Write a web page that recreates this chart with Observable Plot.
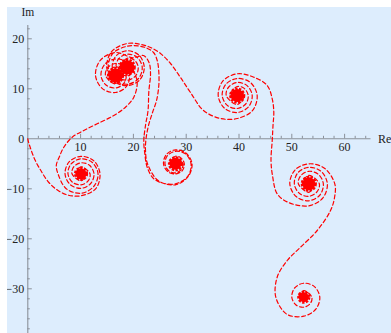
<!DOCTYPE html>
<html><head><meta charset="utf-8">
<script src="https://cdn.jsdelivr.net/npm/d3@7"></script>
<script src="https://cdn.jsdelivr.net/npm/@observablehq/plot@0.6"></script>
<style>
html,body{margin:0;padding:0;background:#fff;overflow:hidden;}
#chart{position:absolute;left:7px;top:7px;}
</style></head><body><div id="chart"></div>
<script>
// Curve, in (Re, Im) values, traced segment by segment
const segOriginToC1 = [[0,0],[0.2,-0.9],[1.4,-4.3],[2.5,-6.4],[3.8,-8.5],[5.4,-10.1],[7.4,-11.2],[10.08,-11.4],[12.88,-9.96],[13.67,-7.0],[12.52,-4.42],[10.08,-3.5],[7.82,-4.62],[7.05,-7.0],[8.03,-9.16],[10.08,-9.9],[11.91,-8.94],[12.54,-7.0],[11.68,-5.3],[10.08,-4.8],[8.73,-5.58],[8.37,-7.0],[10.08,-8.4],[11.02,-7.0],[10.08,-6.4],[10.08,-7.0]];
const segC1ToC2 = [[10.08,-7.6],[9.13,-7.0],[10.08,-5.6],[11.78,-7.0],[11.42,-8.42],[10.08,-9.2],[8.47,-8.7],[7.61,-7.0],[8.2,-5.02],[10.08,-4.0],[12.22,-4.74],[13.3,-7.0],[12.48,-9.54],[10.08,-10.9],[7.27,-9.98],[5.72,-7.0],[5.4,-5.3],[6.0,-3.54],[6.82,-1.68],[8.41,0.32],[10.61,1.66],[13.14,3.0],[16.29,4.66],[18.5,6.32],[20.08,8.32],[20.72,11.0],[20.4,12.66],[19.02,15.2],[16.61,15.96],[14.53,14.86],[13.86,12.66],[14.81,10.76],[16.61,10.16],[18.14,11.04],[18.6,12.66],[16.61,14.46],[15.19,12.66],[16.61,11.46],[17.46,12.66],[16.61,13.26],[16.61,12.66]];
const segC2ToC4 = [[16.61,12.26],[15.85,12.66],[16.61,13.76],[17.94,12.66],[16.61,10.96],[14.72,12.66],[15.13,14.22],[16.61,15.06],[18.35,14.5],[19.26,12.66],[18.69,10.46],[16.61,9.26],[14.13,10.04],[12.82,12.66],[13.73,15.7],[16.61,17.26],[19.96,16.2],[21.89,16.66],[22.96,15.26],[23.24,13.06],[22.92,9.4],[22.77,5.66],[22.29,2.66],[21.97,-0.34],[22.16,-3.0],[22.61,-5.68],[23.81,-7.94],[25.51,-8.84],[27.97,-9.0],[30.32,-7.48],[30.91,-5.0],[29.85,-3.02],[27.97,-2.5],[26.44,-3.38],[25.98,-5.0],[26.67,-6.38],[27.97,-6.8],[29.07,-6.16],[29.39,-5.0],[27.97,-3.9],[27.22,-5.0],[27.97,-5.5],[27.97,-5.0]];
const segC4ToC3 = [[27.97,-4.7],[28.54,-5.0],[27.97,-5.9],[26.84,-5.0],[27.97,-3.5],[29.05,-3.86],[29.64,-5.0],[29.26,-6.36],[27.97,-7.04],[26.5,-6.56],[25.7,-5.0],[26.23,-3.16],[27.97,-2.2],[29.98,-2.88],[31.1,-5.0],[30.38,-7.54],[27.97,-9.2],[24.75,-8.4],[22.67,-5.0],[22.29,-2.34],[22.39,0],[22.86,2.66],[23.62,5.26],[24.38,7.66],[24.81,10.66],[24.81,13.4],[24.51,15.66],[23.81,17.26],[22.48,18.16],[20.97,18.56],[18.83,18.52],[16.16,17.14],[15.23,14.32],[16.42,11.78],[18.83,10.92],[20.97,12.06],[21.67,14.32],[20.7,16.3],[18.83,16.92],[17.22,16.02],[16.75,14.32],[18.83,12.52],[20.16,14.32],[18.83,15.32],[18.26,14.32],[18.83,14.32]];
const segC3ToC5 = [[18.83,14.72],[19.58,14.32],[18.83,13.32],[17.5,14.32],[18.83,16.12],[20.17,15.74],[20.91,14.32],[20.44,12.62],[18.83,11.72],[16.95,12.34],[15.99,14.32],[16.7,16.56],[18.83,17.62],[21.08,16.7],[22.05,14.32],[21.21,11.8],[18.83,10.62],[16.21,11.56],[14.94,14.32],[15.87,17.44],[18.83,19.06],[21.34,18.9],[23.24,18.26],[25.13,17.06],[27.03,15.06],[28.92,12.26],[30.81,9.26],[33.28,5.66],[36.5,4.06],[39.66,4.06],[42.54,5.62],[43.44,8.66],[42.14,11.28],[39.66,12.06],[37.52,10.92],[36.81,8.66],[37.79,6.68],[39.66,6.06],[41.27,6.96],[41.74,8.66],[40.99,10.08],[39.66,10.46],[38.33,8.66],[39.66,7.66],[40.23,8.66],[39.66,8.66]];
const segC5ToC6 = [[39.66,8.26],[39.09,8.66],[39.66,9.66],[40.99,8.66],[39.66,6.86],[37.58,8.66],[38.05,10.36],[39.66,11.26],[41.53,10.64],[42.5,8.66],[41.8,6.4],[39.66,5.26],[37.25,6.12],[36.06,8.66],[36.93,11.54],[39.66,13.0],[42.8,12.32],[45.34,10.66],[46.29,8.0],[46.59,5.32],[46.44,2.66],[46.29,-0.34],[46.06,-4.34],[46.34,-7.34],[47.23,-11.0],[49.37,-12.74],[53.22,-13.4],[55.89,-11.82],[56.73,-9.0],[55.56,-6.52],[53.22,-5.7],[51.14,-6.8],[50.48,-9.0],[51.42,-10.9],[53.22,-11.5],[54.75,-10.62],[55.21,-9.0],[53.22,-7.3],[51.99,-9.0],[53.22,-9.9],[53.7,-9.0],[53.22,-9.0]];
const segC6ToC7 = [[53.22,-8.7],[54.17,-9.0],[53.22,-10.7],[51.24,-9.0],[51.69,-7.38],[53.22,-6.5],[55.02,-7.1],[55.97,-9.0],[55.33,-11.24],[53.22,-12.4],[50.82,-11.54],[49.62,-9.0],[50.6,-6.24],[53.22,-5.0],[56.18,-5.88],[58.14,-9.0],[58.09,-11.74],[57.33,-14.34],[54.81,-18.34],[51.65,-21.68],[49.13,-24.34],[47.23,-27.68],[46.97,-31.68],[49.05,-35.08],[52.27,-35.48],[54.54,-34.08],[55.3,-31.68],[54.28,-29.56],[52.27,-28.88],[50.53,-29.84],[50.0,-31.68],[50.8,-33.24],[52.27,-33.68],[53.48,-32.96],[53.79,-31.68],[52.27,-30.38],[51.33,-31.68],[52.27,-32.38],[52.65,-31.68],[52.27,-31.68]];

// Spiral centres (dense cores)
const coreNames = ["C1","C2","C3","C4","C5","C6","C7"];
const coreRe = [10.08,16.61,18.83,27.97,39.66,53.22,52.27];
const coreIm = [-7.0,12.66,14.32,-5.0,8.66,-9.0,-31.68];

// Axes
const axisRe = [0, 65];
const axisIm = [-39.5, 22.66];
const xTickLabels = [10,20,30,40,50,60];
const yTickLabels = [-30,-20,-10,0,10,20];
const xMajorTicks = [10,20,30,40,50,60];
const yMajorTicks = [-30,-20,-10,10,20];
const xMinorTicks = [2,4,6,8,12,14,16,18,22,24,26,28,32,34,36,38,42,44,46,48,52,54,56,58,62,64];
const yMinorTicks = [-38,-36,-34,-32,-28,-26,-24,-22,-18,-16,-14,-12,-8,-6,-4,-2,2,4,6,8,12,14,16,18,22];

const path = [].concat(segOriginToC1, segC1ToC2, segC2ToC4, segC4ToC3, segC3ToC5, segC5ToC6, segC6ToC7).map(([re, im]) => ({re, im}));
const cores = coreNames.map((name, i) => ({name, re: coreRe[i], im: coreIm[i]}));
const coreSize = {C1: 5.5, C2: 7, C3: 7, C4: 6, C5: 6.5, C6: 6.5, C7: 5};

const axisColor = "#8a9099";
const font = "Liberation Serif, Times New Roman, serif";
const fmt = d => d < 0 ? "\u2212" + (-d) : String(d);

const chart = Plot.plot({
  width: 384,
  height: 326,
  margin: 0,
  x: {domain: [-3.845, 68.88], axis: null},
  y: {domain: [-38.94, 26.26], axis: null},
  r: {type: "identity"},
  style: {background: "rgb(221,237,253)", fontFamily: font},
  marks: [
    Plot.ruleY([0], {x1: axisRe[0], x2: axisRe[1], stroke: axisColor, strokeWidth: 1.1}),
    Plot.ruleX([0], {y1: axisIm[0], y2: axisIm[1], stroke: axisColor, strokeWidth: 1.1}),
    Plot.ruleX(xMinorTicks, {x: d => d, y1: 0, y2: 0, insetBottom: 2.5, stroke: axisColor}),
    Plot.ruleX(xMajorTicks, {x: d => d, y1: 0, y2: 0, insetBottom: 4.5, stroke: axisColor}),
    Plot.ruleY(yMinorTicks, {y: d => d, x1: 0, x2: 0, insetLeft: 2.5, stroke: axisColor}),
    Plot.ruleY(yMajorTicks, {y: d => d, x1: 0, x2: 0, insetLeft: 4.5, stroke: axisColor}),
    Plot.text(xTickLabels, {x: d => d, y: 0, text: fmt, dy: 8.5, fontSize: 12, fill: "#222"}),
    Plot.text(yTickLabels, {x: 0, y: d => d, text: fmt, textAnchor: "end", dx: -3.5, fontSize: 12, fill: "#222"}),
    Plot.text(["Re"], {x: axisRe[1], y: 0, text: d => d, textAnchor: "start", dx: 7, fontSize: 12, fill: "#222"}),
    Plot.text(["Im"], {x: 0, frameAnchor: "top", text: d => d, lineAnchor: "top", dy: 0.5, fontSize: 11.5, fill: "#222"}),
    Plot.line(path, {x: "re", y: "im", curve: "catmull-rom", stroke: "#ff0000", strokeWidth: 1.2, strokeDasharray: "4,2.6"}),
    Plot.dot(cores, {x: "re", y: "im", r: d => coreSize[d.name], fill: "#ff0000", stroke: "#ff0000", strokeWidth: 3.2, strokeDasharray: "2.2,1.3"})
  ]
});
document.getElementById("chart").appendChild(chart);
</script></body></html>
